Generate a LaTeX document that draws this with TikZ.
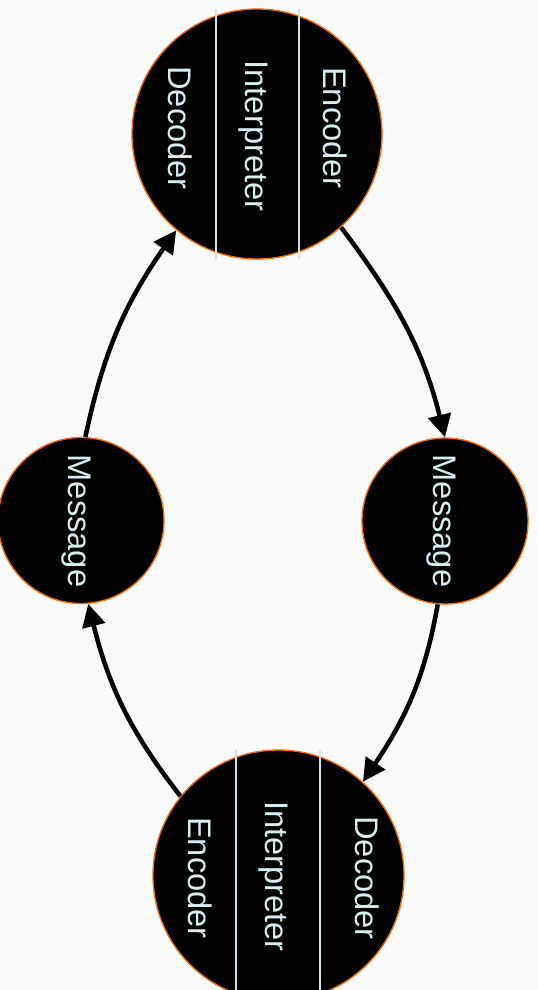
\documentclass[tikz,border=0pt]{standalone}
\usepackage{fontspec}
\setmainfont{Liberation Sans}
\usetikzlibrary{arrows.meta}
\definecolor{bg}{RGB}{250,250,250}
\definecolor{ring}{RGB}{250,105,0}
\definecolor{txt}{RGB}{214,238,242}
\definecolor{divline}{RGB}{200,228,236}
\begin{document}
\begin{tikzpicture}[x=0.75pt,y=0.75pt,
  bubble/.style={circle, draw=ring, line width=1pt, fill=black, inner sep=0pt},
  big/.style={bubble, minimum size=187.5pt},
  small/.style={bubble, minimum size=124.5pt},
  lbl/.style={text=txt, font=\fontsize{24.5}{28}\selectfont, rotate=-90, anchor=base, inner sep=0pt},
  sep/.style={draw=divline, line width=0.8pt},
  flow/.style={line width=3.4pt, -{Triangle[length=17pt,width=17pt]}}]
\fill[bg] (0,0) rectangle (537,990);
\useasboundingbox (0,0) rectangle (537,990);

\node[big] (top) at (257,856) {};
\node[big, minimum size=188.25pt] (bot) at (278.5,114.5) {};
\node[small] (msgL) at (81,469.5) {};
\node[small] (msgR) at (445,469) {};

\draw[sep] (216,981) -- (216,731);
\draw[sep] (299,981) -- (299,731);
\draw[sep] (236,240) -- (236,-12);
\draw[sep] (320,240) -- (320,-12);

\node[lbl] (tdec) at (168,862) {Decoder};
\node[lbl] (tint) at (245,854) {Interpreter};
\node[lbl] (tenc) at (323,862) {Encoder};
\node[lbl] (benc) at (188,112) {Encoder};
\node[lbl] (bint) at (265.5,113.5) {Interpreter};
\node[lbl] (bdec) at (355,112) {Decoder};
\node[lbl] (lmsg) at (68,469) {Message};
\node[lbl] (rmsg) at (433,469) {Message};

\draw[flow] (top.-48) to[out=-53,in=104] (msgR.north);
\draw[flow] (msgR.-95) to[out=-100,in=56] (bot.48);
\draw[flow] (bot.141) to[out=128,in=-76] (msgL.-85);
\draw[flow] (msgL.87) to[out=78,in=-125] (top.-130);
\end{tikzpicture}
\end{document}
